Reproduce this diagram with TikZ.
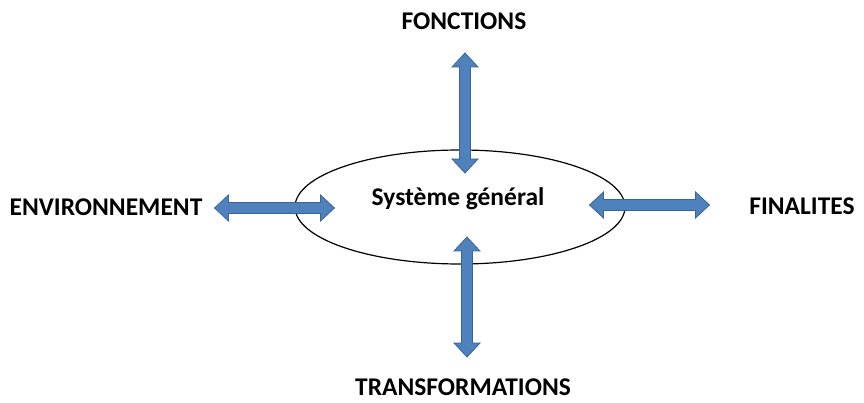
\documentclass[tikz,border=0pt]{standalone}
\usepackage{fontspec}
\setmainfont{Carlito}
\usetikzlibrary{shapes.geometric}
\begin{document}
\begin{tikzpicture}[x=1pt,y=-1pt,
  lbl/.style={font=\bfseries\fontsize{25.5}{28}\selectfont, inner sep=0pt, text=black},
  arrowfill/.style={fill={rgb,255:red,79;green,129;blue,189}, draw={rgb,255:red,58;green,100;blue,150}, line width=0.8pt, line join=miter},
  dbl/.pic={
    \path[arrowfill] (-60,0) -- (-46,-13) -- (-46,-5.5) -- (46,-5.5) -- (46,-13) -- (60,0)
      -- (46,13) -- (46,5.5) -- (-46,5.5) -- (-46,13) -- cycle;
    \coordinate (-a) at (-60,0);
    \coordinate (-b) at (60,0);
  }]
\useasboundingbox (0,0) rectangle (864,403);
\node[draw=black, line width=1.2pt, ellipse, minimum width=330pt, minimum height=114pt, inner sep=0pt] (sys) at (460,207) {};
\node[lbl] (systxt) at (458,199) {Système général};
\node[lbl] (fonc) at (464,21) {FONCTIONS};
\node[lbl] (env) at (106,207) {ENVIRONNEMENT};
\node[lbl] (fin) at (802,206) {FINALITES};
\node[lbl] (trans) at (463,387) {TRANSFORMATIONS};
\pic (atop) at (465,113) [rotate=90] {dbl};
\pic (abot) at (467,297) [rotate=90] {dbl};
\pic (aleft) at (274.5,208) {dbl};
\pic (aright) at (649.5,205) {dbl};
\end{tikzpicture}
\end{document}
